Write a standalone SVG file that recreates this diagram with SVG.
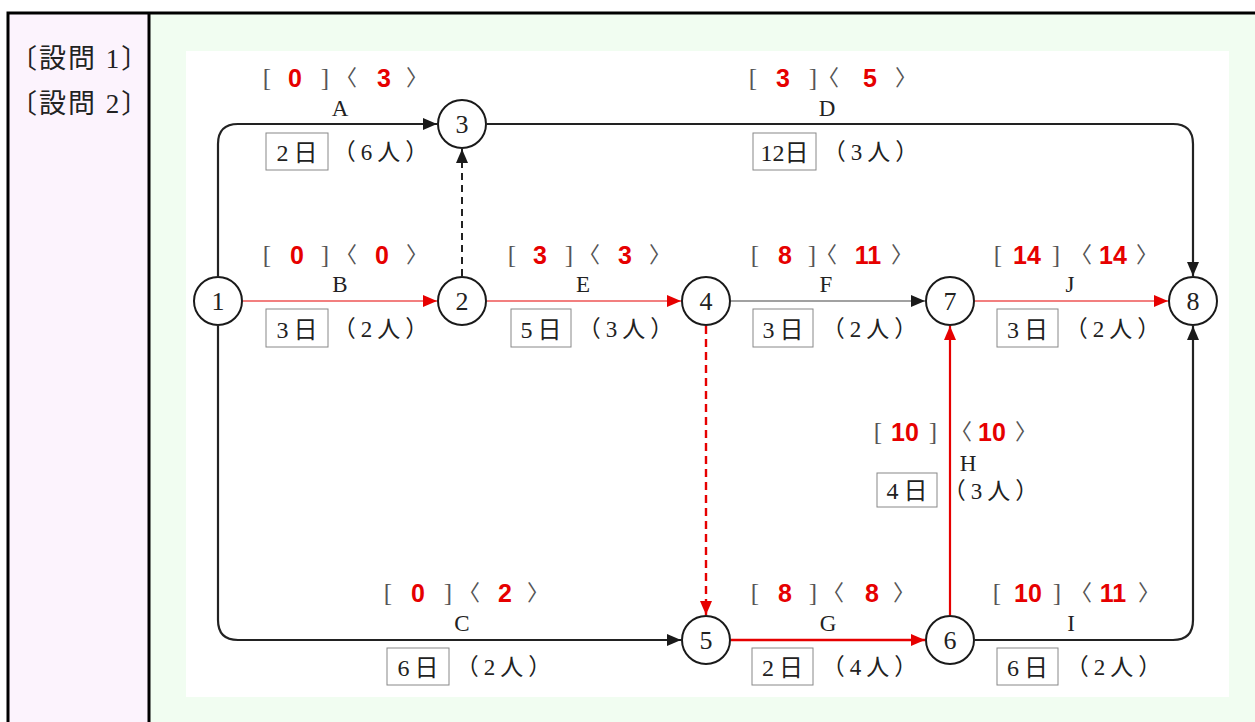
<svg xmlns="http://www.w3.org/2000/svg" width="1255" height="722" viewBox="0 0 1255 722">
  <style>
    .frame { fill: none; stroke: #000; stroke-width: 3; }
    .q { font-family: "Liberation Serif", "Noto Sans CJK JP", serif; font-size: 27px; fill: #222; letter-spacing: 2px; }
    .node circle { fill: #fff; stroke: #1a1a1a; stroke-width: 2; }
    .node text { font-family: "Liberation Serif", serif; font-size: 26px; fill: #222; text-anchor: middle; }
    .br { font-family: "Liberation Serif", serif; font-size: 25px; fill: #555; text-anchor: middle; }
    .ang { font-family: "Noto Sans CJK JP", sans-serif; font-size: 22px; fill: #555; text-anchor: middle; }
    .num { font-family: "Liberation Sans", Arial, sans-serif; font-weight: bold; font-size: 25px; fill: #e60000; text-anchor: middle; }
    .lbl { font-family: "Liberation Serif", serif; font-size: 23px; fill: #222; text-anchor: middle; }
    .box { fill: #fff; stroke: #888; stroke-width: 1; }
    .dur { font-family: "Liberation Serif", "Noto Sans CJK JP", serif; font-size: 24px; fill: #222; text-anchor: middle; letter-spacing: 5px; }
    .dur2 { font-family: "Liberation Serif", "Noto Sans CJK JP", serif; font-size: 24px; fill: #222; text-anchor: middle; }
    .ppl { font-family: "Liberation Serif", "Noto Sans CJK JP", serif; font-size: 23px; fill: #222; text-anchor: middle; letter-spacing: 5px; }
    .thick { fill: none; stroke: #222; stroke-width: 2.2; }
    .thin { fill: none; stroke: #444; stroke-width: 1.1; }
    .rthin { fill: none; stroke: #e60000; stroke-width: 1.2; }
    .rthick { fill: none; stroke: #e60000; stroke-width: 2.6; }
    .rmid { fill: none; stroke: #e60000; stroke-width: 2.2; }
    .dash { fill: none; stroke: #222; stroke-width: 2; stroke-dasharray: 7 5; }
    .rdash { fill: none; stroke: #e60000; stroke-width: 2.4; stroke-dasharray: 8 5; }
  </style>
  <defs>
    <marker id="ah" markerUnits="userSpaceOnUse" markerWidth="14" markerHeight="12" refX="14" refY="6" orient="auto">
      <path d="M0,0 L14,6 L0,12 z" fill="#1a1a1a"/>
    </marker>
    <marker id="ahr" markerUnits="userSpaceOnUse" markerWidth="14" markerHeight="12" refX="14" refY="6" orient="auto">
      <path d="M0,0 L14,6 L0,12 z" fill="#e60000"/>
    </marker>
  </defs>

  <!-- table backgrounds and frame -->
  <rect x="8" y="13" width="141" height="715" fill="#fcf3fd"/>
  <rect x="149" y="13" width="1110" height="715" fill="#f1fdf1"/>
  <rect x="186" y="51" width="1043" height="646" fill="#fff"/>
  <rect class="frame" x="8" y="13" width="1260" height="720"/>
  <line x1="149" y1="13" x2="149" y2="722" stroke="#000" stroke-width="3"/>

  <text class="q" x="10" y="68">〔設問 1〕</text>
  <text class="q" x="10" y="113">〔設問 2〕</text>

  <!-- connectors -->
  <g id="connectors">
    <path id="edge-A" class="thick" d="M218,276 V144 Q218,124 238,124 H437" marker-end="url(#ah)"/>
    <path id="edge-D" class="thick" d="M487,124 H1173 Q1193,124 1193,144 V276" marker-end="url(#ah)"/>
    <path id="edge-C" class="thick" d="M218,326 V620 Q218,640 238,640 H681" marker-end="url(#ah)"/>
    <path id="edge-I" class="thick" d="M975,640 H1173 Q1193,640 1193,620 V326" marker-end="url(#ah)"/>
    <path id="edge-B" class="rthin" d="M243,301 H437" marker-end="url(#ahr)"/>
    <path id="edge-E" class="rthin" d="M487,301 H681" marker-end="url(#ahr)"/>
    <path id="edge-F" class="thin" d="M731,301 H925" marker-end="url(#ah)"/>
    <path id="edge-J" class="rthin" d="M975,301 H1168" marker-end="url(#ahr)"/>
    <path id="dummy-2-3" class="dash" d="M462,276 V149" marker-end="url(#ah)"/>
    <path id="dummy-4-5" class="rdash" d="M706,326 V615" marker-end="url(#ahr)"/>
    <path id="edge-G" class="rthick" d="M731,640 H925" marker-end="url(#ahr)"/>
    <path id="edge-H" class="rmid" d="M950,615 V326" marker-end="url(#ahr)"/>
  </g>

  <!-- activity labels: [earliest]〈latest〉, name, duration, crew -->
  <g id="label-A">
    <text class="br" x="267" y="86">[</text><text class="num" x="295" y="87">0</text><text class="br" x="325" y="86">]</text>
    <text class="ang" x="346" y="85">〈</text><text class="num" x="384" y="87">3</text><text class="ang" x="417" y="85">〉</text>
    <text class="lbl" x="340" y="116">A</text>
    <rect class="box" x="266" y="133" width="62" height="37"/>
    <text class="dur" x="299.5" y="161">2日</text>
    <text class="ppl" x="383" y="160">（6人）</text>
  </g>
  <g id="label-D">
    <text class="br" x="753" y="86">[</text><text class="num" x="783" y="87">3</text><text class="br" x="813" y="86">]</text>
    <text class="ang" x="828" y="85">〈</text><text class="num" x="870" y="87">5</text><text class="ang" x="906" y="85">〉</text>
    <text class="lbl" x="827" y="116">D</text>
    <rect class="box" x="753" y="133" width="63" height="37"/>
    <text class="dur2" x="784.5" y="161">12日</text>
    <text class="ppl" x="873" y="160">（3人）</text>
  </g>
  <g id="label-B">
    <text class="br" x="267" y="263">[</text><text class="num" x="297" y="264">0</text><text class="br" x="325" y="263">]</text>
    <text class="ang" x="346" y="262">〈</text><text class="num" x="382" y="264">0</text><text class="ang" x="417" y="262">〉</text>
    <text class="lbl" x="340" y="292">B</text>
    <rect class="box" x="266" y="309" width="62" height="38"/>
    <text class="dur" x="299.5" y="338">3日</text>
    <text class="ppl" x="383" y="337">（2人）</text>
  </g>
  <g id="label-E">
    <text class="br" x="512" y="263">[</text><text class="num" x="540" y="264">3</text><text class="br" x="569" y="263">]</text>
    <text class="ang" x="589" y="262">〈</text><text class="num" x="625" y="264">3</text><text class="ang" x="660" y="262">〉</text>
    <text class="lbl" x="583" y="292">E</text>
    <rect class="box" x="511" y="309" width="60" height="38"/>
    <text class="dur" x="543.5" y="338">5日</text>
    <text class="ppl" x="628" y="337">（3人）</text>
  </g>
  <g id="label-F">
    <text class="br" x="755" y="263">[</text><text class="num" x="785" y="264">8</text><text class="br" x="812" y="263">]</text>
    <text class="ang" x="826" y="262">〈</text><text class="num" x="868" y="264">11</text><text class="ang" x="902" y="262">〉</text>
    <text class="lbl" x="826" y="292">F</text>
    <rect class="box" x="753" y="309" width="60" height="38"/>
    <text class="dur" x="785.5" y="338">3日</text>
    <text class="ppl" x="872" y="337">（2人）</text>
  </g>
  <g id="label-J">
    <text class="br" x="998" y="263">[</text><text class="num" x="1027" y="264">14</text><text class="br" x="1056" y="263">]</text>
    <text class="ang" x="1081" y="262">〈</text><text class="num" x="1113" y="264">14</text><text class="ang" x="1147" y="262">〉</text>
    <text class="lbl" x="1070" y="292">J</text>
    <rect class="box" x="997" y="309" width="61" height="38"/>
    <text class="dur" x="1030" y="338">3日</text>
    <text class="ppl" x="1115" y="337">（2人）</text>
  </g>
  <g id="label-H">
    <text class="br" x="878" y="440">[</text><text class="num" x="905" y="441">10</text><text class="br" x="933" y="440">]</text>
    <text class="ang" x="961" y="439">〈</text><text class="num" x="992" y="441">10</text><text class="ang" x="1026" y="439">〉</text>
    <text class="lbl" x="968" y="471">H</text>
    <rect class="box" x="877" y="473" width="60" height="34"/>
    <text class="dur" x="909.5" y="499">4日</text>
    <text class="ppl" x="993" y="499">（3人）</text>
  </g>
  <g id="label-C">
    <text class="br" x="388" y="601">[</text><text class="num" x="418" y="602">0</text><text class="br" x="448" y="601">]</text>
    <text class="ang" x="469" y="600">〈</text><text class="num" x="505" y="602">2</text><text class="ang" x="538" y="600">〉</text>
    <text class="lbl" x="462" y="631">C</text>
    <rect class="box" x="387" y="648" width="62" height="37"/>
    <text class="dur" x="420.5" y="676">6日</text>
    <text class="ppl" x="506" y="675">（2人）</text>
  </g>
  <g id="label-G">
    <text class="br" x="755" y="601">[</text><text class="num" x="785" y="602">8</text><text class="br" x="813" y="601">]</text>
    <text class="ang" x="833" y="600">〈</text><text class="num" x="872" y="602">8</text><text class="ang" x="904" y="600">〉</text>
    <text class="lbl" x="828" y="631">G</text>
    <rect class="box" x="752" y="648" width="61" height="37"/>
    <text class="dur" x="785" y="676">2日</text>
    <text class="ppl" x="872" y="675">（4人）</text>
  </g>
  <g id="label-I">
    <text class="br" x="997" y="601">[</text><text class="num" x="1028" y="602">10</text><text class="br" x="1057" y="601">]</text>
    <text class="ang" x="1081" y="600">〈</text><text class="num" x="1113" y="602">11</text><text class="ang" x="1149" y="600">〉</text>
    <text class="lbl" x="1071" y="631">I</text>
    <rect class="box" x="997" y="648" width="61" height="37"/>
    <text class="dur" x="1030" y="676">6日</text>
    <text class="ppl" x="1116" y="675">（2人）</text>
  </g>

  <!-- event nodes -->
  <g id="node-1" class="node"><circle cx="218" cy="301" r="24"/><text x="218" y="310">1</text></g>
  <g id="node-2" class="node"><circle cx="462" cy="301" r="24"/><text x="462" y="310">2</text></g>
  <g id="node-3" class="node"><circle cx="462" cy="124" r="24"/><text x="462" y="133">3</text></g>
  <g id="node-4" class="node"><circle cx="706" cy="301" r="24"/><text x="706" y="310">4</text></g>
  <g id="node-5" class="node"><circle cx="706" cy="640" r="24"/><text x="706" y="649">5</text></g>
  <g id="node-6" class="node"><circle cx="950" cy="640" r="24"/><text x="950" y="649">6</text></g>
  <g id="node-7" class="node"><circle cx="950" cy="301" r="24"/><text x="950" y="310">7</text></g>
  <g id="node-8" class="node"><circle cx="1193" cy="301" r="24"/><text x="1193" y="310">8</text></g>
</svg>
